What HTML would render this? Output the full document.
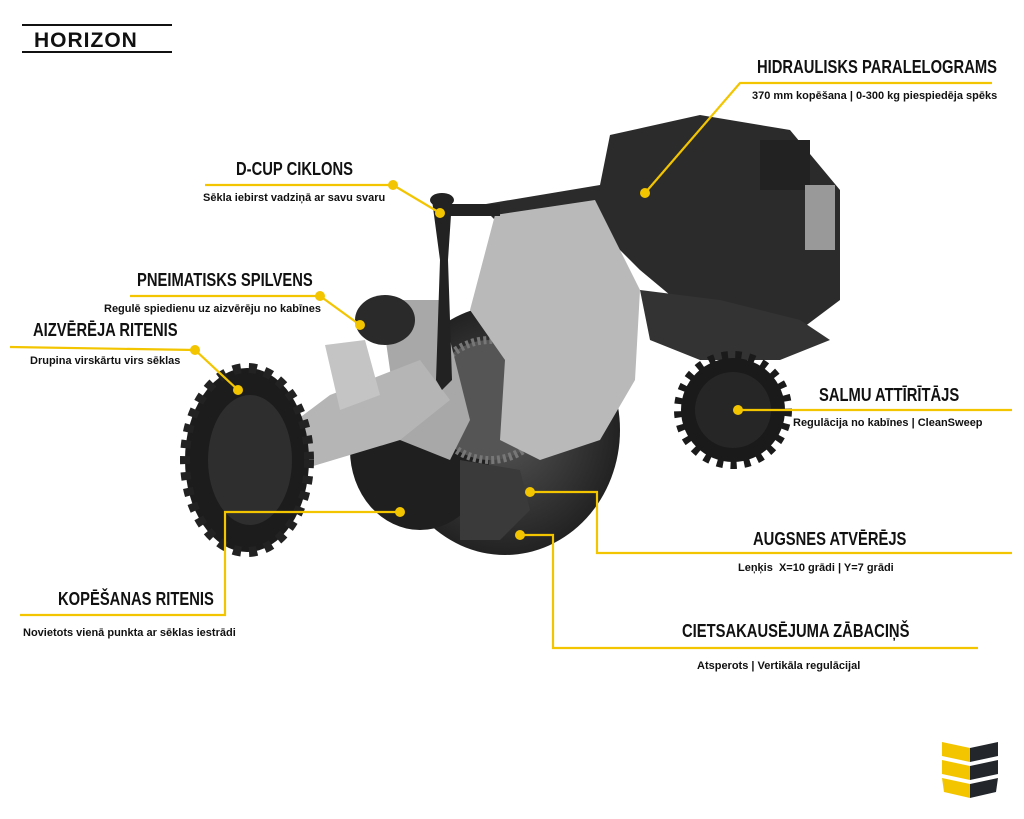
<!DOCTYPE html>
<html><head><meta charset="utf-8"><style>
html,body{margin:0;padding:0;background:#fff}
body{width:1024px;height:819px;position:relative;overflow:hidden;font-family:"Liberation Sans",sans-serif}
.t{position:absolute;font-weight:bold;color:#111;white-space:nowrap;transform-origin:0 0}
.h{font-size:18px;transform:scaleX(0.82)}
.s{font-size:11px}
</style></head><body>
<svg width="1024" height="819" style="position:absolute;left:0;top:0">
<defs>
<radialGradient id="g1" cx="50%" cy="50%" r="50%"><stop offset="0" stop-color="#555"/><stop offset="1" stop-color="#222"/></radialGradient>
</defs>
<line x1="22" y1="25" x2="172" y2="25" stroke="#111" stroke-width="2"/>
<line x1="22" y1="52" x2="172" y2="52" stroke="#111" stroke-width="2"/>
<text x="34" y="47" font-family="Liberation Sans,sans-serif" font-weight="bold" font-size="21" fill="#111" letter-spacing="1">HORIZON</text>
<polygon points="610,135 700,115 790,130 840,190 840,300 800,330 700,320 640,270 600,230 560,240 500,225 480,205 600,185" fill="#2b2b2b"/>
<polygon points="640,290 720,300 800,320 830,340 780,360 700,360 650,340" fill="#333"/>
<rect x="760" y="140" width="50" height="50" fill="#222"/>
<rect x="805" y="185" width="30" height="65" fill="#999"/>
<ellipse cx="505" cy="430" rx="115" ry="125" fill="url(#g1)"/>
<ellipse cx="420" cy="450" rx="70" ry="80" fill="#1f1f1f"/>
<circle cx="490" cy="400" r="60" fill="#555" stroke="#777" stroke-width="8" stroke-dasharray="3 3"/>
<polygon points="495,215 595,200 640,290 635,380 600,440 540,460 500,440 505,360 470,310" fill="#b9b9b9"/>
<polygon points="380,300 440,300 470,420 450,460 400,440" fill="#a8a8a8"/>
<polygon points="270,440 330,395 420,360 450,400 400,440 300,470" fill="#b5b5b5"/>
<polygon points="325,345 365,340 380,395 340,410" fill="#c4c4c4"/>
<polygon points="460,460 520,470 530,510 500,540 460,540" fill="#3a3a3a"/>
<ellipse cx="385" cy="320" rx="30" ry="25" fill="#2a2a2a"/>
<polygon points="432,200 452,200 448,260 452,380 442,390 436,380 440,260" fill="#222"/>
<ellipse cx="442" cy="200" rx="12" ry="7" fill="#222"/>
<line x1="450" y1="210" x2="500" y2="210" stroke="#222" stroke-width="12"/>
<ellipse cx="247" cy="460" rx="62" ry="92" fill="#1c1c1c" stroke="#222" stroke-width="10" stroke-dasharray="8 8"/>
<ellipse cx="250" cy="460" rx="42" ry="65" fill="#2e2e2e"/>
<circle cx="733" cy="410" r="52" fill="#1a1a1a" stroke="#1a1a1a" stroke-width="14" stroke-dasharray="6 7"/>
<circle cx="733" cy="410" r="38" fill="#262626"/>
<g stroke="#f2c500" stroke-width="2.2" fill="none">
<polyline points="992,83 740,83 645,193"/>
<polyline points="205,185 393,185 440,213"/>
<polyline points="130,296 320,296 360,325"/>
<polyline points="10,347 195,350 238,390"/>
<polyline points="738,410 1012,410"/>
<polyline points="530,492 597,492 597,553 1012,553"/>
<polyline points="520,535 553,535 553,648 978,648"/>
<polyline points="400,512 225,512 225,615 20,615"/>
</g>
<g fill="#f2c500">
<circle cx="645" cy="193" r="5"/><circle cx="393" cy="185" r="5"/><circle cx="440" cy="213" r="5"/>
<circle cx="320" cy="296" r="5"/><circle cx="360" cy="325" r="5"/><circle cx="195" cy="350" r="5"/>
<circle cx="238" cy="390" r="5"/><circle cx="738" cy="410" r="5"/><circle cx="530" cy="492" r="5"/>
<circle cx="520" cy="535" r="5"/><circle cx="400" cy="512" r="5"/>
</g>
<g>
<polygon points="942,742 970,748 970,762 942,756" fill="#f2c500"/>
<polygon points="970,748 998,742 998,756 970,762" fill="#23272c"/>
<polygon points="942,760 970,766 970,780 942,774" fill="#f2c500"/>
<polygon points="970,766 998,760 998,774 970,780" fill="#23272c"/>
<polygon points="942,778 970,784 970,798 944,792" fill="#f2c500"/>
<polygon points="970,784 998,778 996,792 970,798" fill="#23272c"/>
</g>
</svg>
<div class="t h" style="left:757px;top:57px">HIDRAULISKS PARALELOGRAMS</div>
<div class="t s" style="left:752px;top:90px">370 mm kopēšana | 0-300 kg piespiedēja spēks</div>
<div class="t h" style="left:236px;top:159px">D-CUP CIKLONS</div>
<div class="t s" style="left:203px;top:192px">Sēkla iebirst vadziņā ar savu svaru</div>
<div class="t h" style="left:137px;top:270px">PNEIMATISKS SPILVENS</div>
<div class="t s" style="left:104px;top:303px">Regulē spiedienu uz aizvērēju no kabīnes</div>
<div class="t h" style="left:33px;top:320px">AIZVĒRĒJA RITENIS</div>
<div class="t s" style="left:30px;top:355px">Drupina virskārtu virs sēklas</div>
<div class="t h" style="left:819px;top:385px">SALMU ATTĪRĪTĀJS</div>
<div class="t s" style="left:793px;top:417px">Regulācija no kabīnes | CleanSweep</div>
<div class="t h" style="left:753px;top:529px">AUGSNES ATVĒRĒJS</div>
<div class="t s" style="left:738px;top:562px">Leņķis &nbsp;X=10 grādi | Y=7 grādi</div>
<div class="t h" style="left:58px;top:589px">KOPĒŠANAS RITENIS</div>
<div class="t s" style="left:23px;top:627px">Novietots vienā punkta ar sēklas iestrādi</div>
<div class="t h" style="left:682px;top:621px">CIETSAKAUSĒJUMA ZĀBACIŅŠ</div>
<div class="t s" style="left:697px;top:660px">Atsperots | Vertikāla regulācijal</div>
</body></html>
